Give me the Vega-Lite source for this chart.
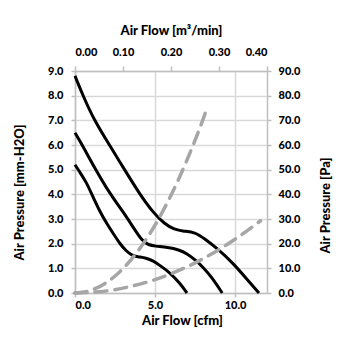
{
  "$schema": "https://vega.github.io/schema/vega-lite/v6.json",
  "width": 192,
  "height": 222,
  "autosize": "none",
  "padding": {"left": 75, "top": 71, "right": 88, "bottom": 62},
  "background": "white",
  "config": {
    "view": {"stroke": null},
    "axis": {
      "labelFont": "Lato",
      "labelFontWeight": 900,
      "labelFontSize": 11,
      "labelColor": "#000000",
      "titleFont": "Lato",
      "titleFontWeight": 900,
      "titleFontSize": 13,
      "titleColor": "#000000",
      "domainColor": "#bfbfbf",
      "domainWidth": 1.5,
      "tickColor": "#bfbfbf",
      "tickWidth": 1.5,
      "tickSize": 4,
      "gridColor": "#d9d9d9",
      "gridWidth": 1.5
    }
  },
  "datasets": {
    "fan": [
      {"curve": "A", "cfm": 0, "mm": 8.8},
      {"curve": "A", "cfm": 0.5, "mm": 8.0},
      {"curve": "A", "cfm": 1.2, "mm": 7.0},
      {"curve": "A", "cfm": 2.2, "mm": 5.95},
      {"curve": "A", "cfm": 3.1, "mm": 5.0},
      {"curve": "A", "cfm": 4.05, "mm": 4.0},
      {"curve": "A", "cfm": 4.9, "mm": 3.25},
      {"curve": "A", "cfm": 5.6, "mm": 2.8},
      {"curve": "A", "cfm": 6.2, "mm": 2.57},
      {"curve": "A", "cfm": 6.8, "mm": 2.5},
      {"curve": "A", "cfm": 7.5, "mm": 2.47},
      {"curve": "A", "cfm": 8.1, "mm": 2.2},
      {"curve": "A", "cfm": 8.9, "mm": 1.8},
      {"curve": "A", "cfm": 9.9, "mm": 1.2},
      {"curve": "A", "cfm": 10.75, "mm": 0.55},
      {"curve": "A", "cfm": 11.5, "mm": 0},
      {"curve": "B", "cfm": 0, "mm": 6.5},
      {"curve": "B", "cfm": 0.5, "mm": 5.95},
      {"curve": "B", "cfm": 1.2, "mm": 5.1},
      {"curve": "B", "cfm": 2.2, "mm": 4.0},
      {"curve": "B", "cfm": 3.0, "mm": 3.3},
      {"curve": "B", "cfm": 3.6, "mm": 2.7},
      {"curve": "B", "cfm": 4.2, "mm": 2.1},
      {"curve": "B", "cfm": 4.6, "mm": 1.95},
      {"curve": "B", "cfm": 5.0, "mm": 1.9},
      {"curve": "B", "cfm": 5.8, "mm": 1.85},
      {"curve": "B", "cfm": 6.5, "mm": 1.75},
      {"curve": "B", "cfm": 7.0, "mm": 1.6},
      {"curve": "B", "cfm": 7.5, "mm": 1.35},
      {"curve": "B", "cfm": 8.0, "mm": 1.05},
      {"curve": "B", "cfm": 8.6, "mm": 0.6},
      {"curve": "B", "cfm": 9.2, "mm": 0},
      {"curve": "C", "cfm": 0, "mm": 5.2},
      {"curve": "C", "cfm": 0.3, "mm": 4.9},
      {"curve": "C", "cfm": 0.7, "mm": 4.5},
      {"curve": "C", "cfm": 1.05, "mm": 4.0},
      {"curve": "C", "cfm": 1.55, "mm": 3.3},
      {"curve": "C", "cfm": 2.0, "mm": 2.8},
      {"curve": "C", "cfm": 2.4, "mm": 2.4},
      {"curve": "C", "cfm": 2.8, "mm": 2.0},
      {"curve": "C", "cfm": 3.2, "mm": 1.7},
      {"curve": "C", "cfm": 3.55, "mm": 1.53},
      {"curve": "C", "cfm": 3.9, "mm": 1.47},
      {"curve": "C", "cfm": 4.45, "mm": 1.42},
      {"curve": "C", "cfm": 4.9, "mm": 1.3},
      {"curve": "C", "cfm": 5.3, "mm": 1.12},
      {"curve": "C", "cfm": 5.95, "mm": 0.82},
      {"curve": "C", "cfm": 6.55, "mm": 0.4},
      {"curve": "C", "cfm": 7.0, "mm": 0}
    ],
    "sys": [
      {"curve": "high", "m3min": 0, "Pa": 0},
      {"curve": "high", "m3min": 0.0333, "Pa": 1.1},
      {"curve": "high", "m3min": 0.0667, "Pa": 4.4},
      {"curve": "high", "m3min": 0.1, "Pa": 9.9},
      {"curve": "high", "m3min": 0.1333, "Pa": 17.6},
      {"curve": "high", "m3min": 0.1667, "Pa": 27.5},
      {"curve": "high", "m3min": 0.2, "Pa": 39.6},
      {"curve": "high", "m3min": 0.2333, "Pa": 53.9},
      {"curve": "high", "m3min": 0.2667, "Pa": 70.4},
      {"curve": "high", "m3min": 0.275, "Pa": 74.9},
      {"curve": "low", "m3min": 0, "Pa": 0},
      {"curve": "low", "m3min": 0.0667, "Pa": 0.87},
      {"curve": "low", "m3min": 0.1333, "Pa": 3.5},
      {"curve": "low", "m3min": 0.2, "Pa": 7.8},
      {"curve": "low", "m3min": 0.2667, "Pa": 13.9},
      {"curve": "low", "m3min": 0.3333, "Pa": 21.8},
      {"curve": "low", "m3min": 0.3867, "Pa": 29.3}
    ]
  },
  "layer": [
    {
      "data": {"name": "fan"},
      "mark": {"type": "line", "color": "#000000", "strokeWidth": 3, "interpolate": "basis"},
      "encoding": {
        "x": {
          "field": "cfm", "type": "quantitative",
          "scale": {"domain": [0, 12], "nice": false},
          "axis": {
            "orient": "bottom", "title": "Air Flow [cfm]", "values": [0, 5, 10], "format": ".1f",
            "grid": true, "labelPadding": 2, "titleX": 107, "titleY": 27, "titleBaseline": "middle"
          }
        },
        "y": {
          "field": "mm", "type": "quantitative",
          "scale": {"domain": [0, 9], "nice": false},
          "axis": {
            "orient": "left", "title": "Air Pressure [mm-H2O]", "values": [0, 1, 2, 3, 4, 5, 6, 7, 8, 9], "format": ".1f",
            "grid": true, "labelPadding": 8, "titleAngle": 270, "titleX": -56, "titleY": 121, "titleBaseline": "middle"
          }
        },
        "detail": {"field": "curve", "type": "nominal"}
      }
    },
    {
      "data": {"name": "sys"},
      "mark": {"type": "line", "color": "#a6a6a6", "strokeWidth": 3.5, "strokeDash": [12, 8], "strokeCap": "round", "interpolate": "monotone"},
      "encoding": {
        "x": {
          "field": "m3min", "type": "quantitative",
          "scale": {"domain": [0, 0.4], "nice": false},
          "axis": {
            "orient": "top", "title": "Air Flow [m³/min]", "values": [0, 0.1, 0.2, 0.3, 0.4], "format": ".2f",
            "grid": false, "tickSize": 5, "labelPadding": 9, "titleX": 96, "titleY": -41, "titleBaseline": "middle"
          }
        },
        "y": {
          "field": "Pa", "type": "quantitative",
          "scale": {"domain": [0, 90], "nice": false},
          "axis": {
            "orient": "right", "title": "Air Pressure [Pa]", "values": [0, 10, 20, 30, 40, 50, 60, 70, 80, 90], "format": ".1f",
            "grid": false, "labelPadding": 7, "titleAngle": 270, "titleX": 58, "titleY": 134, "titleBaseline": "middle"
          }
        },
        "detail": {"field": "curve", "type": "nominal"}
      }
    }
  ],
  "resolve": {"scale": {"x": "independent", "y": "independent"}}
}
